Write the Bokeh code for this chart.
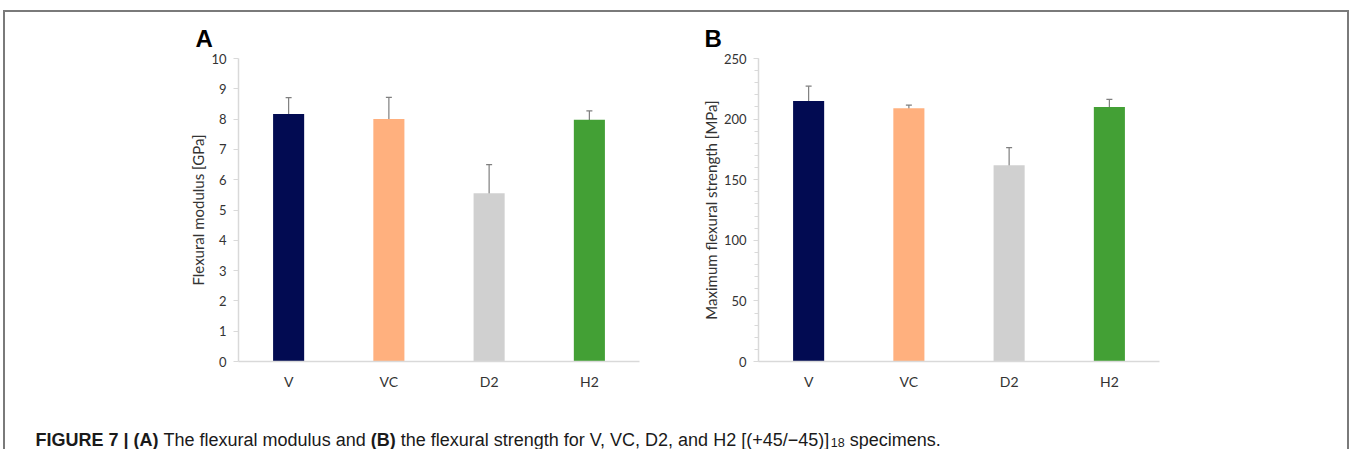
from bokeh.plotting import figure
from bokeh.layouts import column, row
from bokeh.models import (ColumnDataSource, FactorRange, Range1d, Whisker, TeeHead,
                          FixedTicker)
from bokeh.core.properties import value
from bokeh.embed import file_html
from bokeh.resources import INLINE

# ---------------- data ----------------
categories = ["V", "VC", "D2", "H2"]
bar_colors = ["#020b52", "#ffb07e", "#d0d0d0", "#43a035"]
modulus = [8.17, 8.00, 5.55, 7.98]
modulus_err = [0.54, 0.72, 0.95, 0.29]
strength = [215.0, 209.0, 162.0, 210.0]
strength_err = [12.2, 2.6, 14.5, 6.3]
modulus_ticks = [0, 1, 2, 3, 4, 5, 6, 7, 8, 9, 10]
strength_ticks = [0, 50, 100, 150, 200, 250]
strength_minor_ticks = list(range(0, 251, 10))
modulus_label = "Flexural modulus [GPa]"
strength_label = "Maximum flexural strength [MPa]"

TXT = "#333333"
AX = "#d9d9d9"
ERR = "#7f7f7f"
PANEL_H = 393


def make_panel(vals, errs, ticks, minor, ymax, ylabel, letter, letter_offset,
               width, b_left, b_right, b_bottom, label_standoff):
    src = ColumnDataSource(dict(
        cat=categories, val=vals,
        lo=[v - e for v, e in zip(vals, errs)],
        hi=[v + e for v, e in zip(vals, errs)],
        color=bar_colors))
    p = figure(x_range=FactorRange(factors=categories), y_range=Range1d(0, ymax),
               width=width, height=PANEL_H, output_backend="svg", toolbar_location=None,
               min_border_left=b_left, min_border_right=b_right,
               min_border_top=46, min_border_bottom=b_bottom,
               outline_line_color=None, title=letter)
    p.vbar(x="cat", top="val", width=0.31, fill_color="color", line_color=None, source=src)
    p.add_layout(Whisker(source=src, base="cat", upper="hi", lower="lo",
                         line_color=ERR, line_width=1.2,
                         upper_head=TeeHead(size=6, line_color=ERR, line_width=1.2),
                         lower_head=TeeHead(size=6, line_color=ERR, line_width=1.2)))
    p.xgrid.visible = False
    p.ygrid.visible = False

    p.title.align = "left"
    p.title.offset = letter_offset
    p.title.standoff = 13
    p.title.text_font = "Liberation Sans"
    p.title.text_font_size = "24px"
    p.title.text_font_style = "bold"
    p.title.text_color = "black"

    xa = p.xaxis[0]
    xa.axis_line_color = AX
    xa.axis_line_width = 1.5
    xa.major_tick_line_color = None
    xa.minor_tick_line_color = None
    xa.major_label_standoff = 5
    xa.major_label_text_font = "Lato"
    xa.major_label_text_font_size = "14px"
    xa.major_label_text_color = TXT

    ya = p.yaxis[0]
    ya.ticker = FixedTicker(ticks=ticks, minor_ticks=minor)
    ya.axis_line_color = AX
    ya.axis_line_width = 1.5
    ya.major_tick_line_color = AX
    ya.major_tick_out = 5
    ya.major_tick_in = 0
    ya.minor_tick_line_color = AX if minor else None
    ya.minor_tick_out = 4
    ya.minor_tick_in = 0
    ya.major_label_standoff = 7
    ya.major_label_text_font = "Lato"
    ya.major_label_text_font_size = "13px"
    ya.major_label_text_color = TXT
    ya.axis_label = ylabel
    ya.axis_label_standoff = label_standoff
    ya.axis_label_text_font = "Lato"
    ya.axis_label_text_font_size = "15px"
    ya.axis_label_text_font_style = "normal"
    ya.axis_label_text_color = TXT
    return p


pA = make_panel(modulus, modulus_err, modulus_ticks, [], 10, modulus_label, "A", -43,
                693, 233, 59, 43, 1)
pB = make_panel(strength, strength_err, strength_ticks, strength_minor_ticks, 250,
                strength_label, "B", -54, 649, 59, 188, 44, 1)

# ---------------- caption ----------------
W_REG = {' ': 278, '(': 333, ')': 333, '+': 584, ',': 278, '-': 333, '.': 278, '/': 278,
         '0': 556, '1': 556, '2': 556, '3': 556, '4': 556, '5': 556, '6': 556, '7': 556,
         '8': 556, '9': 556, 'A': 667, 'B': 667, 'C': 722, 'D': 722, 'E': 667, 'F': 611,
         'G': 778, 'H': 722, 'I': 278, 'R': 722, 'T': 611, 'U': 722, 'V': 667, '[': 278,
         ']': 278, 'a': 556, 'c': 500, 'd': 556, 'e': 556, 'f': 278, 'g': 556, 'h': 556,
         'i': 222, 'l': 222, 'm': 833, 'n': 556, 'o': 556, 'p': 556, 'r': 333, 's': 500,
         't': 278, 'u': 556, 'x': 500, '|': 260, '\u2212': 584}
W_BOLD = dict(W_REG)
W_BOLD.update({'A': 722, 'B': 722, '|': 280})

caption_parts = [
    ("FIGURE 7 | (A)", "bold", 18, 0),
    (" The flexural modulus and ", "normal", 18, 0),
    ("(B)", "bold", 18, 0),
    (" the flexural strength for V, VC, D2, and H2 [(+45/\u221245)]", "normal", 18, 0),
    ("18", "normal", 12.5, 3),
    (" specimens.", "normal", 18, 0),
]

CAP_W, CAP_H = 1342, 44
cap = figure(width=CAP_W, height=CAP_H, x_range=Range1d(0, CAP_W), y_range=Range1d(CAP_H, 0),
             output_backend="svg", toolbar_location=None, min_border=0, title=None,
             x_axis_location=None, y_axis_location=None, outline_line_color=None)
cap.xgrid.visible = False
cap.ygrid.visible = False

cx = 30.0
base_y = 34
for txt, style, size, shift in caption_parts:
    table = W_BOLD if style == "bold" else W_REG
    lead = len(txt) - len(txt.lstrip(" "))
    cx += lead * table[' '] * size / 1000
    body = txt.strip(" ")
    cap.text(x=[cx], y=[base_y + shift], text=[body], text_font=value("Liberation Sans"),
             text_font_size=f"{size}px", text_font_style=style, text_color="#1a1a1a",
             text_baseline="alphabetic", text_align="left")
    cx += sum(table[c] for c in body) * size / 1000
    trail = len(txt) - len(txt.rstrip(" "))
    cx += trail * table[' '] * size / 1000

layout = column(row(pA, pB), cap,
                styles={"margin-left": "3px", "margin-top": "10px",
                        "border-top": "2px solid #7a7a7a",
                        "border-left": "2px solid #7a7a7a",
                        "border-right": "2px solid #7a7a7a"})

open("out.html", "w").write(file_html(layout, INLINE))
